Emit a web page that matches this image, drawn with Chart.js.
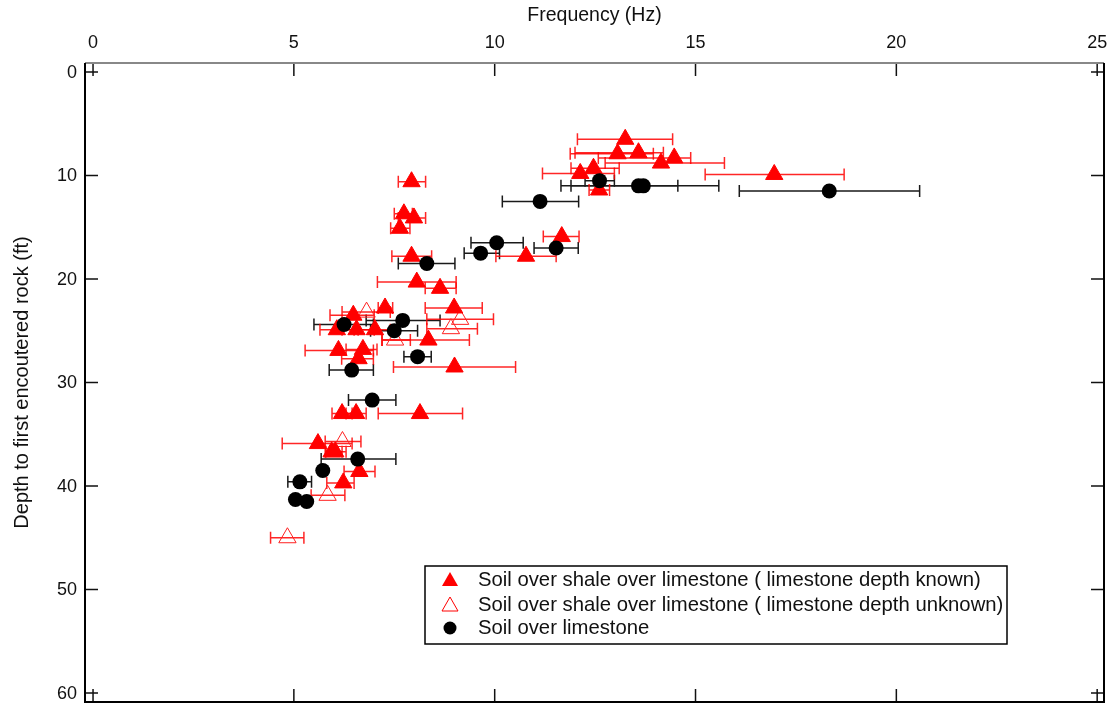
<!DOCTYPE html>
<html>
<head>
<meta charset="utf-8">
<script src="https://cdn.jsdelivr.net/npm/chart.js@4.4.1/dist/chart.umd.min.js"></script>
<style>
  html, body { margin: 0; padding: 0; background: #fff; }
  #wrap { width: 1113px; height: 707px; }
</style>
</head>
<body>
<div id="wrap"><canvas id="myChart" width="1113" height="707"></canvas></div>
<script>
// tick labels
const xTicks = [0, 5, 10, 15, 20, 25];
const yTicks = [0, 10, 20, 30, 40, 50, 60];

// Soil over shale over limestone (limestone depth known)
const knownFreq  = [13.25, 13.06, 13.58, 14.47, 14.14, 12.46, 12.13, 16.96, 12.60, 7.93, 7.74, 7.99, 7.64, 11.67, 10.78, 7.93, 8.06, 8.64, 8.99, 7.27, 6.48, 6.07, 6.56, 7.02, 8.35, 6.11, 6.72, 6.61, 9.00, 6.20, 6.55, 8.14, 5.60, 5.94, 6.03, 6.63, 6.23];
const knownDepth = [6.5, 7.9, 7.8, 8.3, 8.8, 9.3, 9.8, 9.9, 11.4, 10.6, 13.7, 14.1, 15.1, 15.9, 17.8, 17.8, 20.3, 20.9, 22.8, 22.8, 23.5, 24.9, 24.9, 24.9, 25.9, 26.9, 26.8, 27.7, 28.5, 33.0, 33.0, 33.0, 35.9, 36.7, 36.7, 38.6, 39.7];
const knownLow   = [12.06, 11.88, 12.00, 12.58, 12.75, 11.90, 11.19, 15.24, 12.35, 7.60, 7.50, 7.60, 7.41, 11.21, 10.03, 7.44, 7.08, 8.27, 8.27, 7.10, 5.90, 5.65, 6.20, 6.60, 7.19, 5.28, 6.30, 6.19, 7.48, 5.95, 6.30, 7.10, 4.71, 5.78, 5.80, 6.25, 5.82];
const knownHigh  = [14.43, 13.95, 14.20, 14.88, 15.72, 13.10, 12.98, 18.70, 12.86, 8.28, 7.95, 8.28, 7.89, 12.10, 11.53, 8.43, 9.04, 9.04, 9.69, 7.46, 7.00, 6.50, 7.00, 7.40, 9.37, 6.98, 7.07, 6.98, 10.52, 6.45, 6.80, 9.20, 6.45, 6.20, 6.30, 7.02, 6.50];

// Soil over shale over limestone (limestone depth unknown)
const unknownFreq  = [6.81, 9.14, 8.91, 7.52, 6.21, 5.84, 4.84];
const unknownDepth = [23.2, 23.9, 24.8, 25.9, 35.7, 40.9, 45.0];
const unknownLow   = [6.20, 8.31, 8.31, 7.20, 5.78, 5.43, 4.42];
const unknownHigh  = [7.40, 9.97, 9.57, 7.90, 6.67, 6.27, 5.25];

// Soil over limestone
const limeFreq  = [12.61, 13.58, 13.70, 11.13, 18.33, 10.05, 11.53, 9.65, 8.31, 7.71, 6.25, 7.50, 8.08, 6.44, 6.95, 6.59, 5.72, 5.15, 5.04, 5.32];
const limeDepth = [10.5, 11.0, 11.0, 12.5, 11.5, 16.5, 17.0, 17.5, 18.5, 24.0, 24.4, 25.0, 27.5, 28.8, 31.7, 37.4, 38.5, 39.6, 41.3, 41.5];
const limeLow   = [12.25, 11.65, 11.90, 10.19, 16.09, 9.41, 10.98, 9.24, 7.60, 6.80, 5.50, 6.91, 7.74, 5.88, 6.36, 5.68, null, 4.85, null, null];
const limeHigh  = [12.98, 14.56, 15.58, 12.09, 20.58, 10.71, 12.08, 10.12, 9.01, 8.64, 6.98, 8.08, 8.42, 6.98, 7.54, 7.54, null, 5.44, null, null];

const legendLabels = [
    'Soil over shale over limestone ( limestone depth known)',
    'Soil over shale over limestone ( limestone depth unknown)',
    'Soil over limestone'
];

const FONT = '"Liberation Sans", Arial, sans-serif';

function toPoints(fx, dy, lo, hi) {
    return fx.map((v, i) => ({ x: v, y: dy[i], xMin: lo[i], xMax: hi[i] }));
}

// horizontal error bars with caps, drawn under the markers
const errorBars = {
    id: 'errorBars',
    beforeDatasetsDraw(chart) {
        const { ctx, scales: { x, y } } = chart;
        ctx.save();
        chart.data.datasets.forEach(ds => {
            ctx.strokeStyle = ds.errorColor;
            ctx.lineWidth = 1.5;
            ds.data.forEach(p => {
                if (p.xMin == null) return;
                const py = y.getPixelForValue(p.y);
                const x0 = x.getPixelForValue(p.xMin);
                const x1 = x.getPixelForValue(p.xMax);
                ctx.beginPath();
                ctx.moveTo(x0, py); ctx.lineTo(x1, py);
                ctx.moveTo(x0, py - 6); ctx.lineTo(x0, py + 6);
                ctx.moveTo(x1, py - 6); ctx.lineTo(x1, py + 6);
                ctx.stroke();
            });
        });
        ctx.restore();
    }
};

// box frame, inward ticks on all four sides, tick labels
const frame = {
    id: 'frame',
    afterDraw(chart) {
        const { ctx, chartArea: a, scales: { x, y } } = chart;
        const len = 13;
        ctx.save();
        ctx.lineWidth = 1.5;
        ctx.strokeStyle = '#111';
        ctx.fillStyle = '#111';
        ctx.font = '18px ' + FONT;
        ctx.textBaseline = 'middle';
        xTicks.forEach(v => {
            const px = x.getPixelForValue(v);
            ctx.beginPath();
            ctx.moveTo(px, a.top); ctx.lineTo(px, a.top + len);
            ctx.moveTo(px, a.bottom); ctx.lineTo(px, a.bottom - len);
            ctx.stroke();
            ctx.textAlign = 'center';
            ctx.fillText(String(v), px, a.top - 20);
        });
        yTicks.forEach(v => {
            const py = y.getPixelForValue(v);
            ctx.beginPath();
            ctx.moveTo(a.left, py); ctx.lineTo(a.left + len, py);
            ctx.moveTo(a.right, py); ctx.lineTo(a.right - len, py);
            ctx.stroke();
            ctx.textAlign = 'right';
            ctx.fillText(String(v), a.left - 8, py + 1);
        });
        ctx.lineWidth = 2;
        ctx.strokeStyle = '#888';
        ctx.beginPath();
        ctx.moveTo(a.left, a.top); ctx.lineTo(a.right, a.top);
        ctx.stroke();
        ctx.strokeStyle = '#000';
        ctx.beginPath();
        ctx.moveTo(a.left, a.top); ctx.lineTo(a.left, a.bottom);
        ctx.lineTo(a.right, a.bottom); ctx.lineTo(a.right, a.top);
        ctx.stroke();
        ctx.restore();
    }
};

// boxed legend inside the plot, lower right
const boxLegend = {
    id: 'boxLegend',
    afterDraw(chart) {
        const { ctx } = chart;
        const left = 425, top = 566, w = 582, h = 78;
        const rows = [580, 605, 628];
        ctx.save();
        ctx.fillStyle = '#fff';
        ctx.fillRect(left, top, w, h);
        ctx.strokeStyle = '#000';
        ctx.lineWidth = 1.5;
        ctx.strokeRect(left, top, w, h);

        const mx = 450;
        // filled triangle
        ctx.fillStyle = '#ff0000';
        ctx.beginPath();
        ctx.moveTo(mx, rows[0] - 8); ctx.lineTo(mx + 8, rows[0] + 6); ctx.lineTo(mx - 8, rows[0] + 6);
        ctx.closePath(); ctx.fill();
        // open triangle
        ctx.strokeStyle = '#ff0000';
        ctx.lineWidth = 1;
        ctx.beginPath();
        ctx.moveTo(mx, rows[1] - 8); ctx.lineTo(mx + 8, rows[1] + 6); ctx.lineTo(mx - 8, rows[1] + 6);
        ctx.closePath(); ctx.stroke();
        // circle
        ctx.fillStyle = '#000';
        ctx.beginPath();
        ctx.arc(mx, rows[2], 6.5, 0, Math.PI * 2);
        ctx.fill();

        ctx.fillStyle = '#111';
        ctx.font = '20.3px ' + FONT;
        ctx.textBaseline = 'middle';
        ctx.textAlign = 'left';
        legendLabels.forEach((t, i) => ctx.fillText(t, 478, rows[i]));
        ctx.restore();
    }
};

const ctx = document.getElementById('myChart').getContext('2d');
const myChart = new Chart(ctx, {
    type: 'scatter',
    data: {
        datasets: [
            {
                label: legendLabels[2],
                data: toPoints(limeFreq, limeDepth, limeLow, limeHigh),
                pointStyle: 'circle',
                pointRadius: 7.5,
                backgroundColor: '#000',
                borderColor: '#000',
                borderWidth: 0,
                errorColor: '#1a1a1a',
                order: 0
            },
            {
                label: legendLabels[0],
                data: toPoints(knownFreq, knownDepth, knownLow, knownHigh),
                pointStyle: 'triangle',
                pointRadius: 10,
                backgroundColor: '#ff0000',
                borderColor: '#ff0000',
                borderWidth: 1,
                errorColor: 'rgba(255,0,0,0.85)',
                order: 1
            },
            {
                label: legendLabels[1],
                data: toPoints(unknownFreq, unknownDepth, unknownLow, unknownHigh),
                pointStyle: 'triangle',
                pointRadius: 10,
                backgroundColor: 'rgba(0,0,0,0)',
                borderColor: '#ff2020',
                borderWidth: 1,
                errorColor: 'rgba(255,0,0,0.85)',
                order: 2
            }
        ]
    },
    options: {
        responsive: false,
        animation: false,
        devicePixelRatio: 1,
        layout: { autoPadding: false, padding: { left: 0, top: 0, right: 9, bottom: 5 } },
        plugins: {
            legend: { display: false },
            tooltip: { enabled: false }
        },
        scales: {
            x: {
                type: 'linear',
                position: 'top',
                min: -0.2,
                max: 25.17,
                afterBuildTicks: s => { s.ticks = xTicks.map(v => ({ value: v })); },
                afterFit: s => { s.height = 63; },
                grid: { display: false, drawTicks: false },
                border: { display: false },
                ticks: { display: false },
                title: { display: true, text: 'Frequency (Hz)', color: '#111', padding: { top: 4, bottom: 0 }, font: { family: FONT, size: 19.5 } }
            },
            y: {
                type: 'linear',
                reverse: true,
                min: -0.87,
                max: 60.87,
                afterBuildTicks: s => { s.ticks = yTicks.map(v => ({ value: v })); },
                afterFit: s => { s.width = 85; },
                grid: { display: false, drawTicks: false },
                border: { display: false },
                ticks: { display: false },
                title: { display: true, text: 'Depth to first encoutered rock (ft)', color: '#111', padding: { top: 10, bottom: 0 }, font: { family: FONT, size: 20 } }
            }
        }
    },
    plugins: [errorBars, frame, boxLegend]
});
</script>
</body>
</html>
